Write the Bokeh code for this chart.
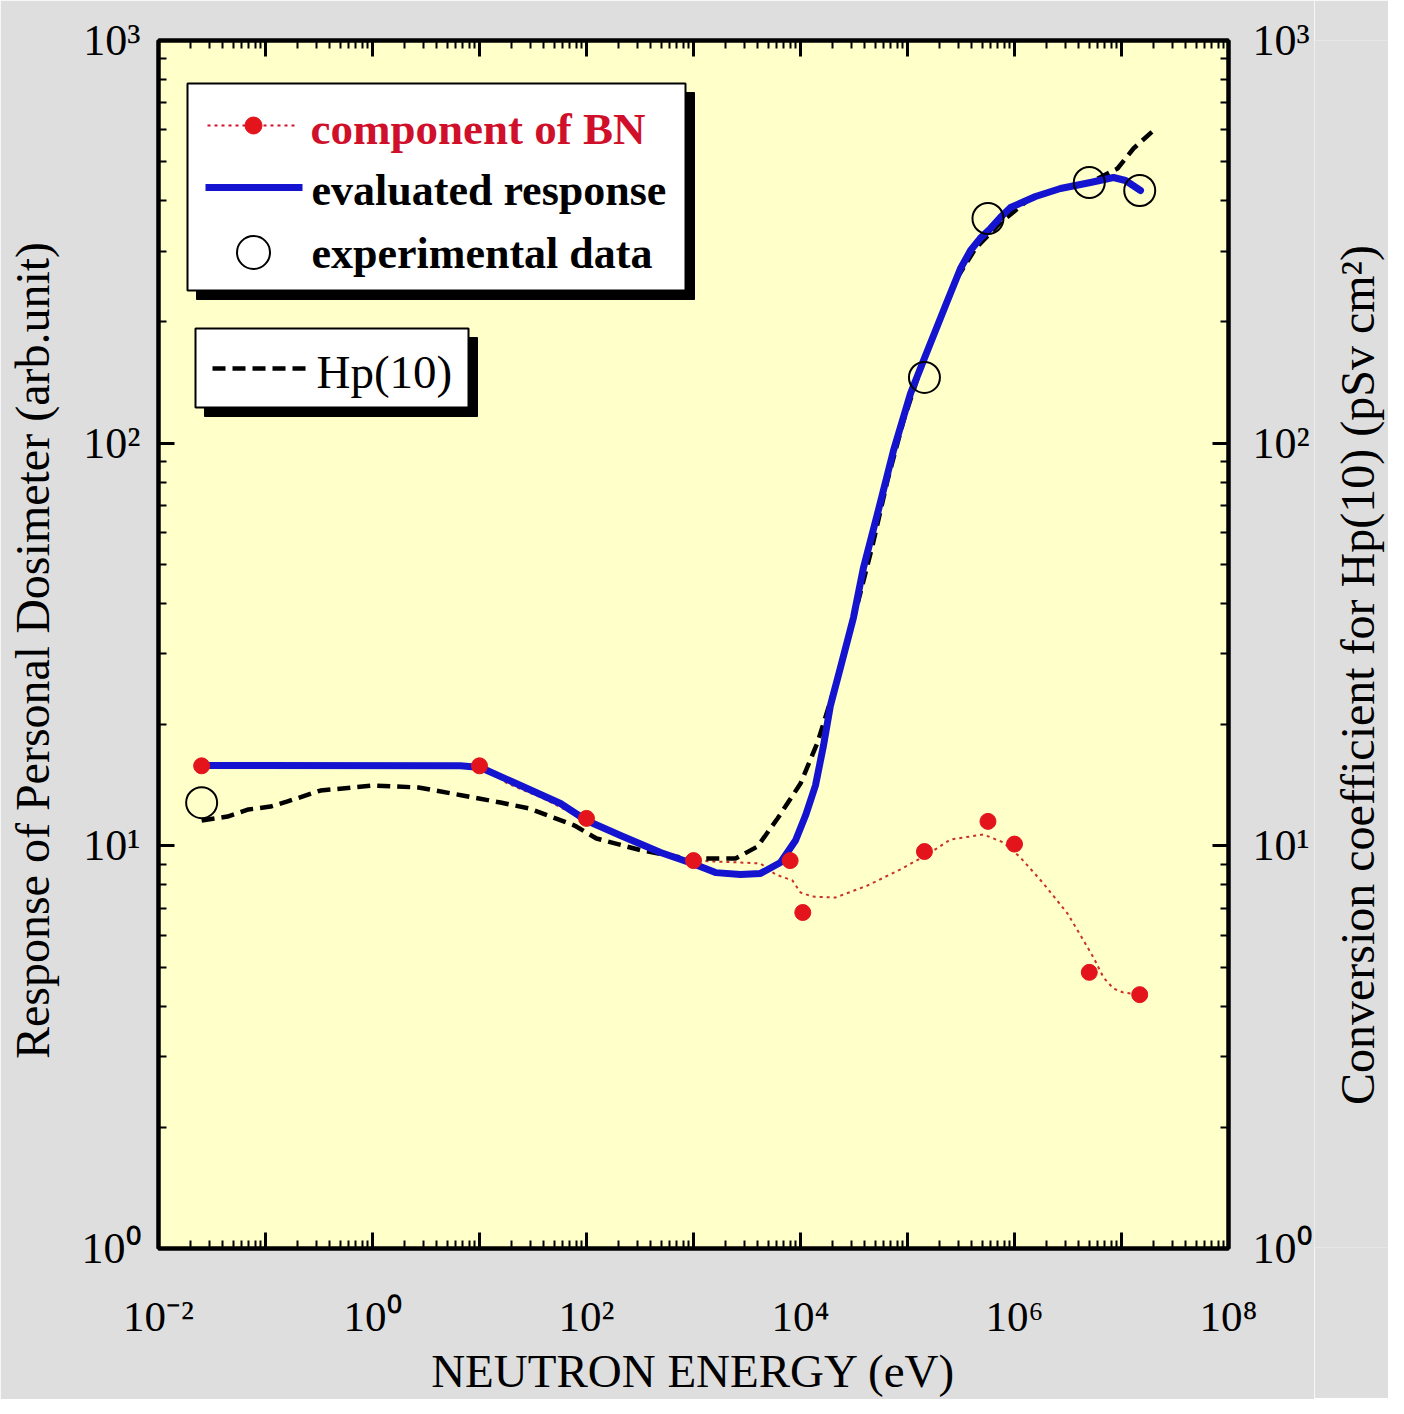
import math
from bokeh.plotting import figure
from bokeh.layouts import row
from bokeh.models import LogAxis, FixedTicker, Range1d
from bokeh.core.properties import value
from bokeh.embed import file_html
from bokeh.resources import INLINE

# ---------------- data ----------------
bn_energy = [0.0253, 10, 100, 1000, 8000, 1.05e4, 1.44e5, 5.65e5, 1.0e6, 5.0e6, 1.48e7]
bn_response = [15.8, 15.8, 11.7, 9.19, 9.19, 6.83, 9.68, 11.5, 10.1, 4.85, 4.27]

bn_curve_energy = [0.0253, 10.2, 18.3, 39.6, 70.8, 100, 208, 492, 979, 2750, 4230, 5840,
                   8420, 1.0e4, 1.294e4, 2.12e4, 4.23e4, 8.6e4, 1.538e5, 2.52e5, 5.13e5,
                   7.89e5, 1.138e6, 1.866e6, 3.13e6, 4.42e6, 5.47e6, 6.79e6, 8.41e6,
                   1.044e7, 1.506e7]
bn_curve_response = [15.83, 15.83, 14.28, 13.11, 12.10, 11.69, 10.61, 9.74, 9.19, 9.09, 9.04,
                     8.49, 8.20, 7.66, 7.48, 7.44, 7.97, 8.74, 9.52, 10.37, 10.67, 10.19,
                     9.35, 8.06, 6.79, 5.82, 5.28, 4.71, 4.42, 4.32, 4.27]

eval_energy = [0.0253, 6.64, 10.2, 24.2, 57.2, 100, 208, 492, 979, 1607, 2750, 4230, 6500,
               8980, 1.114e4, 1.38e4, 1.641e4, 1.905e4, 2.365e4, 3.127e4, 3.88e4, 5.25e4,
               7.4e4, 1.067e5, 1.412e5, 1.828e5, 2.366e5, 3.128e5, 3.88e5, 4.8e5, 5.97e5,
               7.4e5, 9.18e5, 1.571e6, 2.69e6, 5.13e6, 8.41e6, 1.089e7, 1.506e7]
eval_response = [15.83, 15.8, 15.65, 14.12, 12.74, 11.56, 10.61, 9.625, 9.04, 8.58, 8.49,
                 8.54, 9.09, 10.31, 11.89, 14.12, 17.75, 22.31, 27.73, 36.9, 49.1, 66.9,
                 95.9, 132.8, 160.4, 190.5, 226.1, 271.5, 300.9, 323.0, 341.4, 364.0, 384.8,
                 409.9, 429.0, 444.0, 456.8, 449.1, 424.2]

exp_energy = [0.0253, 1.44e5, 5.65e5, 5.0e6, 1.48e7]
exp_response = [12.8, 145.6, 361.4, 444.0, 424.2]

hp10_energy = [0.0253, 0.0442, 0.0693, 0.1114, 0.1608, 0.3266, 1.02, 2.69, 6.93, 15.7, 29.3,
               77.3, 124, 327, 861, 2470, 3965, 6100, 1.0e4, 1.442e4, 2.033e4, 2.63e4,
               3.48e4, 4.71e4, 6.5e4, 9.18e4, 1.267e5, 1.828e5, 2.81e5, 4.32e5, 7.4e5,
               1.322e6, 2.31e6, 5.13e6, 9.18e6, 1.294e7, 2.08e7]
hp10_coeff = [11.56, 11.82, 12.31, 12.52, 12.89, 13.72, 14.12, 13.96, 13.34, 12.81, 12.38,
              11.23, 10.43, 9.74, 9.30, 9.30, 9.96, 11.69, 14.28, 18.06, 24.17, 30.6, 40.7,
              55.7, 80.8, 113.8, 147.3, 190.0, 253.5, 304.3, 353.2, 400.5, 424.2, 444.0,
              481.0, 539.2, 604.4]

x_tick_values = [10.0 ** k for k in range(-2, 9)]
x_tick_labels = ["10\u207b\u00b2", "", "10\u2070", "", "10\u00b2", "", "10\u2074", "",
                 "10\u2076", "", "10\u2078"]
y_tick_values = [1.0, 10.0, 100.0, 1000.0]
y_tick_labels = ["10\u2070", "10\u00b9", "10\u00b2", "10\u00b3"]

legend_labels = ["component of BN", "evaluated response", "experimental data", "Hp(10)"]
x_title = "NEUTRON ENERGY (eV)"
left_title = "Response of Personal  Dosimeter (arb.unit)"
right_title = "Conversion coefficient for Hp(10)  (pSv cm\u00b2)"

# ---------------- styling ----------------
FONT = "Liberation Serif"
GRAY = "#dedede"
RED_DOT = "#e3141c"
RED_LINE = "#c8302a"
RED_TEXT = "#d0102a"
BLUE = "#1414d0"

X_MIN, X_MAX = 0.01, 1e8
Y_MIN, Y_MAX = 1.0, 1000.0

MAIN_RIGHT = 86
p = figure(frame_width=1070, frame_height=1208,
           x_axis_type="log", y_axis_type="log",
           x_range=Range1d(X_MIN, X_MAX), y_range=Range1d(Y_MIN, Y_MAX),
           output_backend="svg", toolbar_location=None,
           min_border_left=158, min_border_right=MAIN_RIGHT,
           min_border_top=40, min_border_bottom=150,
           background_fill_color="#ffffca", border_fill_color=GRAY,
           outline_line_color="black", outline_line_width=4)
p.xgrid.grid_line_color = None
p.ygrid.grid_line_color = None

x_minor = [m * 10.0 ** k for k in range(-2, 8) for m in range(2, 10)]
y_minor = [m * 10.0 ** k for k in range(0, 3) for m in range(2, 10)]
x_ticker = FixedTicker(ticks=x_tick_values, minor_ticks=x_minor)
y_ticker = FixedTicker(ticks=y_tick_values, minor_ticks=y_minor)
x_over = dict(zip(x_tick_values, x_tick_labels))
y_over = dict(zip(y_tick_values, y_tick_labels))


def style_axis(ax, ticker, overrides, show_labels=True):
    ax.ticker = ticker
    ax.major_label_overrides = overrides
    ax.axis_line_color = "black"
    ax.axis_line_width = 4
    ax.major_tick_in = 16
    ax.major_tick_out = 0
    ax.minor_tick_in = 8
    ax.minor_tick_out = 0
    ax.major_tick_line_width = 3
    ax.minor_tick_line_width = 2
    ax.major_tick_line_color = "black"
    ax.minor_tick_line_color = "black"
    ax.major_label_text_font = FONT
    ax.major_label_text_color = "black"
    ax.axis_label_text_font = FONT
    ax.axis_label_text_font_style = "normal"
    ax.axis_label_text_color = "black"
    ax.axis_label_text_font_size = "47px"
    if show_labels:
        ax.major_label_text_font_size = "44px"
    else:
        ax.major_label_text_font_size = "0px"
        ax.major_label_standoff = 0


def sx(px):
    return 10 ** (math.log10(X_MIN) + (px - 158) * (math.log10(X_MAX) - math.log10(X_MIN)) / 1070)


def sy(py):
    return 10 ** (math.log10(Y_MIN) + (1248 - py) * (math.log10(Y_MAX) - math.log10(Y_MIN)) / 1208)


bottom = p.xaxis[0]
style_axis(bottom, x_ticker, x_over)
bottom.axis_label = x_title
bottom.major_label_text_font_size = "43px"
bottom.major_label_standoff = 44
bottom.axis_label_standoff = 2

left = p.yaxis[0]
style_axis(left, y_ticker, y_over)
left.axis_label = left_title
left.axis_label_text_font_size = "48px"
left.major_label_standoff = 18
left.axis_label_standoff = 20

top = LogAxis()
style_axis(top, x_ticker, {v: "" for v in x_tick_values}, show_labels=False)
p.add_layout(top, "above")

right = LogAxis()
style_axis(right, y_ticker, y_over)
right.major_label_standoff = 24
p.add_layout(right, "right")

# ---------------- data marks ----------------
p.line(bn_curve_energy, bn_curve_response, line_color=RED_LINE, line_width=2,
       line_dash="3 4")
p.line(hp10_energy, hp10_coeff, line_color="black", line_width=4.5, line_dash="13 7")
p.line(eval_energy, eval_response, line_color=BLUE, line_width=7, line_join="round",
       line_cap="round")
p.scatter(bn_energy, bn_response, marker="circle", size=16, fill_color=RED_DOT,
          line_color=RED_DOT)
p.scatter(exp_energy, exp_response, marker="circle", size=31, fill_color=None,
          line_color="black", line_width=2)


# ---------------- legend boxes ----------------
def box(l, t, r, b):
    p.quad(left=[sx(l + 9)], right=[sx(r + 9)], top=[sy(t + 9)], bottom=[sy(b + 9)],
           fill_color="black", line_color="black")
    p.quad(left=[sx(l)], right=[sx(r)], top=[sy(t)], bottom=[sy(b)],
           fill_color="white", line_color="black", line_width=2)


box(187, 83, 685, 290)
box(195, 328, 468, 407)

# component of BN
p.line([sx(207), sx(298)], [sy(125), sy(125)], line_color=RED_TEXT, line_width=2,
       line_dash="3 4")
p.scatter([sx(253)], [sy(125)], marker="circle", size=17, fill_color=RED_DOT,
          line_color=RED_DOT)
# evaluated response
p.line([sx(205), sx(302)], [sy(187), sy(187)], line_color=BLUE, line_width=7)
# experimental data
p.scatter([sx(253)], [sy(252)], marker="circle", size=33, fill_color=None,
          line_color="black", line_width=2)
# Hp(10)
p.line([sx(212), sx(310)], [sy(368), sy(368)], line_color="black", line_width=4.5,
       line_dash="13 7")

p.text(x=[sx(310)], y=[sy(128)], text=[legend_labels[0]], text_color=RED_TEXT,
       text_font=value(FONT), text_font_size="45px", text_font_style="bold",
       text_baseline="alphabetic")
p.text(x=[sx(311), sx(311)], y=[sy(190), sy(253)], text=legend_labels[1:3],
       text_color="black", text_font=value(FONT), text_font_size="44px",
       text_font_style="bold", text_baseline="alphabetic")
p.text(x=[sx(316)], y=[sy(371)], text=[legend_labels[3]], text_color="black",
       text_font=value(FONT), text_font_size="47px", text_baseline="alphabetic")

# ---------------- right-hand title strip (reads bottom to top) ----------------
MAIN_W = 158 + 1070 + MAIN_RIGHT
STRIP_W = 1388 - MAIN_W
FIG_H = 1398
t = figure(width=STRIP_W, height=FIG_H, x_range=Range1d(0, STRIP_W),
           y_range=Range1d(0, FIG_H), output_backend="svg", toolbar_location=None,
           min_border=0, background_fill_color=GRAY, border_fill_color=GRAY,
           outline_line_color=None)
t.axis.visible = False
t.grid.visible = False
t.text(x=[1357 - MAIN_W], y=[FIG_H - 728], text=[right_title], angle=math.pi / 2,
       text_align="center", text_baseline="middle", text_color="black",
       text_font=value(FONT), text_font_size="48px")

layout = row(p, t)
open("out.html", "w").write(file_html(layout, INLINE))
